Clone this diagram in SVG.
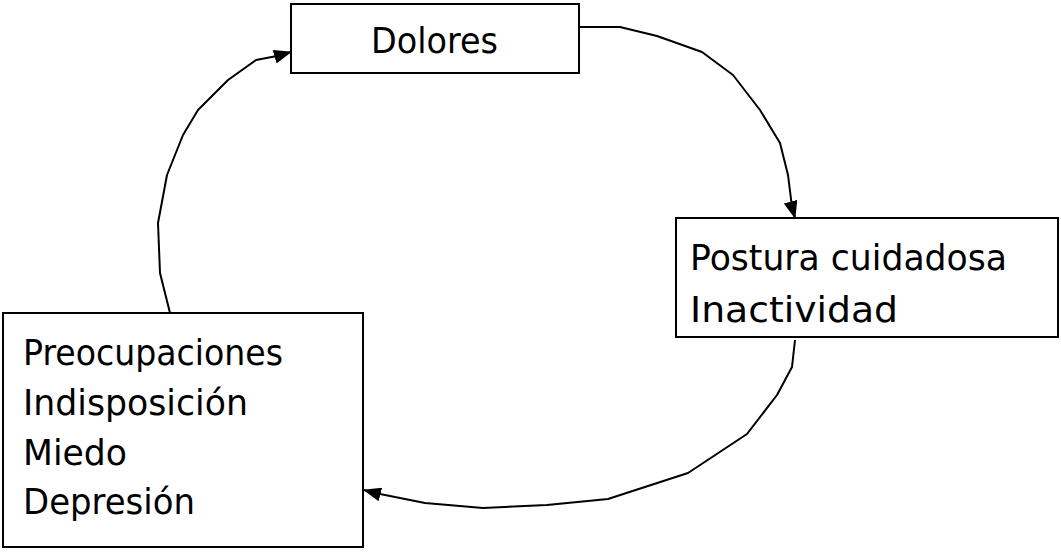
<svg xmlns="http://www.w3.org/2000/svg" width="1061" height="556" viewBox="0 0 1061 556">
<defs>
<style>
.box{fill:#fff;stroke:#000;stroke-width:2}
.t{font-family:"DejaVu Sans","Liberation Sans",sans-serif;font-size:36px;fill:#000}
.c{fill:none;stroke:#000;stroke-width:2;stroke-linejoin:round}
</style>
<marker id="ah" markerWidth="18" markerHeight="14" refX="17" refY="7" orient="auto" markerUnits="userSpaceOnUse">
<path d="M0,0 L18,7 L0,14 Z" fill="#000"/>
</marker>
</defs>
<rect width="1061" height="556" fill="#fff"/>
<g id="connectors">
<path class="c" marker-end="url(#ah)" d="M579,27 L620,27 L657,36 L702,52 L733,75 L760,110 L780,143 L788,175 L792,207 L795,218"/>
<path class="c" marker-end="url(#ah)" d="M795,340 L792,367 L777,395 L747,434 L688,473 L608,499 L547,505 L483,508 L425,503 L375,493 L364,490"/>
<path class="c" marker-end="url(#ah)" d="M170,313 L160,273 L158,223 L167,175 L183,135 L198,110 L228,80 L256,60 L277,56 L291,52"/>
</g>
<g id="dolores">
<rect class="box" x="291" y="4" width="288" height="69"/>
<text class="t" x="371" y="53" textLength="127" lengthAdjust="spacingAndGlyphs">Dolores</text>
</g>
<g id="postura">
<rect class="box" x="676" y="218" width="382" height="119"/>
<text class="t" x="690" y="270" textLength="317" lengthAdjust="spacingAndGlyphs">Postura cuidadosa</text>
<text class="t" x="690" y="322" textLength="208" lengthAdjust="spacingAndGlyphs">Inactividad</text>
</g>
<g id="preocupaciones">
<rect class="box" x="3" y="313" width="360" height="234"/>
<text class="t" x="23" y="365" textLength="260" lengthAdjust="spacingAndGlyphs">Preocupaciones</text>
<text class="t" x="23" y="415" textLength="225" lengthAdjust="spacingAndGlyphs">Indisposición</text>
<text class="t" x="23" y="465" textLength="104" lengthAdjust="spacingAndGlyphs">Miedo</text>
<text class="t" x="23" y="514" textLength="172" lengthAdjust="spacingAndGlyphs">Depresión</text>
</g>
</svg>
